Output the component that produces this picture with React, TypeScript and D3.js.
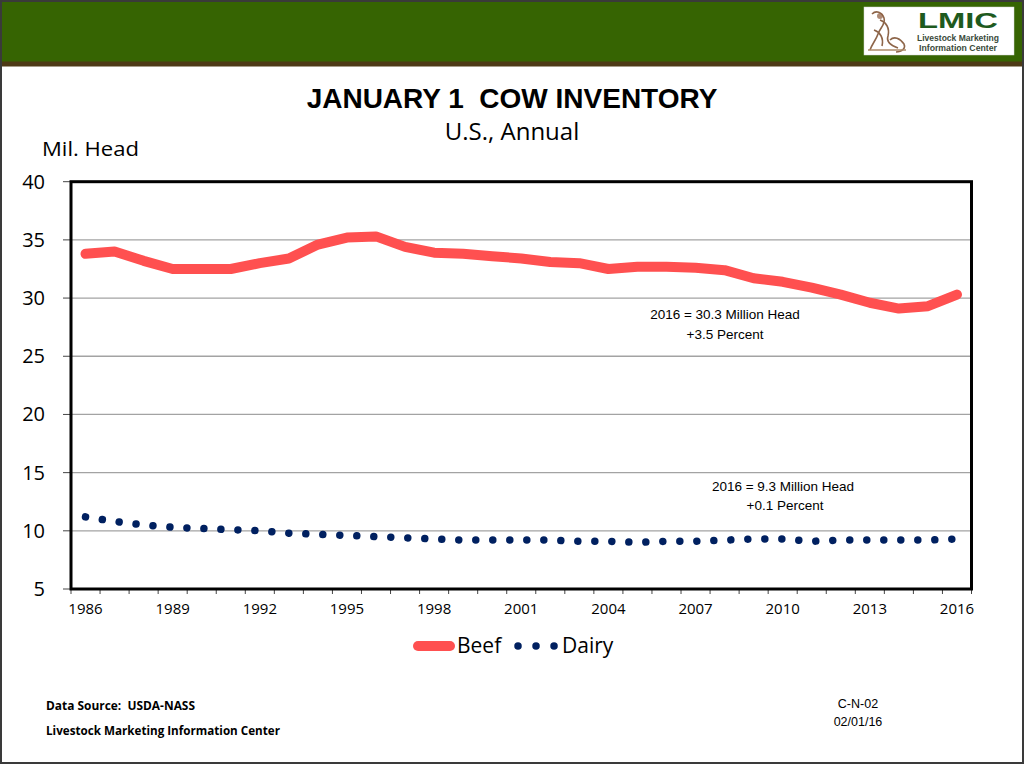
import React from "react";
import * as d3 from "d3";

const years: number[] = [1986,1987,1988,1989,1990,1991,1992,1993,1994,1995,1996,1997,1998,1999,2000,2001,2002,2003,2004,2005,2006,2007,2008,2009,2010,2011,2012,2013,2014,2015,2016];
const beef: number[] = [33.8,34.0,33.2,32.5,32.5,32.5,33.0,33.4,34.6,35.2,35.3,34.4,33.9,33.8,33.6,33.4,33.1,33.0,32.5,32.7,32.7,32.6,32.4,31.7,31.4,30.9,30.3,29.6,29.1,29.3,30.3];
const dairy: number[] = [11.2,10.8,10.5,10.3,10.2,10.1,10.0,9.8,9.7,9.6,9.5,9.4,9.3,9.2,9.2,9.2,9.2,9.1,9.1,9.0,9.1,9.1,9.2,9.3,9.3,9.1,9.2,9.2,9.2,9.2,9.3];
const yTicks: number[] = [5,10,15,20,25,30,35,40];
const xLabelYears: number[] = [1986,1989,1992,1995,1998,2001,2004,2007,2010,2013,2016];

const PL = 71, PR = 971.5, PT = 181.7, PB = 589;
const CAL = "'Open Sans', 'Noto Sans', sans-serif";
const ARIAL = "'Liberation Sans', Arial, sans-serif";

export default function App() {
  const x = d3.scaleBand<number>().domain(years).range([PL, PR]).padding(0);
  const xc = (yr: number) => (x(yr) as number) + x.bandwidth() / 2;
  const y = d3.scaleLinear().domain([5, 40]).range([PB, PT]);

  const beefPts: [number, number][] = years.map((yr, i) => [xc(yr), y(beef[i])]);
  const dairyPts: [number, number][] = years.map((yr, i) => [xc(yr), y(dairy[i])]);
  const line = d3.line<[number, number]>().x(d => d[0]).y(d => d[1]);

  const boundaries = years.map(yr => x(yr) as number).concat([PR]);

  return (
    <svg width={1024} height={764} style={{ position: "absolute", left: 0, top: 0, background: "#fff" }}>
      {/* header */}
      <rect x={0} y={0} width={1024} height={62} fill="#366402" />
      <rect x={0} y={61.5} width={1024} height={5} fill="#4e3a16" />
      <rect x={1} y={1} width={1022} height={762} fill="none" stroke="#3a3a3a" strokeWidth={2} />
      {/* logo */}
      <rect x={864} y={7} width={150} height={48} fill="#fff" stroke="#d8d8d8" strokeWidth={0.5} />
      <g stroke="#7a4b2a" strokeWidth={1.6} fill="none" opacity={0.85}>
        <path d="M872,14 C876,10 882,12 884,18 C886,24 880,28 878,34 C876,40 872,44 870,50" />
        <path d="M880,20 C886,22 890,28 888,36 C886,42 892,46 898,48" />
        <path d="M874,30 C880,32 884,38 882,46" />
        <path d="M890,40 C894,36 900,38 904,44 C906,48 902,52 896,52" />
        <path d="M868,50 L906,50" stroke="#a07850" />
      </g>
      <circle cx={880} cy={16} r={3} fill="#8b5a3c" opacity={0.7} />
      <text x={918} y={28} fontFamily={ARIAL} fontWeight="bold" fontSize={22} fill="#1e5a1e" textLength={80} lengthAdjust="spacingAndGlyphs">LMIC</text>
      <text x={917} y={41} fontFamily={ARIAL} fontWeight="bold" fontSize={9} fill="#3a4a3a" textLength={82} lengthAdjust="spacingAndGlyphs">Livestock Marketing</text>
      <text x={919} y={50.5} fontFamily={ARIAL} fontWeight="bold" fontSize={9} fill="#3a4a3a" textLength={78} lengthAdjust="spacingAndGlyphs">Information Center</text>

      {/* titles */}
      <text x={512} y={108} textAnchor="middle" fontFamily={ARIAL} fontWeight="bold" fontSize={28} fill="#000" style={{ whiteSpace: "pre" }}>JANUARY 1  COW INVENTORY</text>
      <text x={512} y={140} textAnchor="middle" fontFamily={CAL} fontSize={24} fill="#000">U.S., Annual</text>
      <text x={42} y={156} fontFamily={CAL} fontSize={20} fill="#000" textLength={97} lengthAdjust="spacingAndGlyphs">Mil. Head</text>

      {/* gridlines */}
      {yTicks.filter(t => t > 5 && t < 40).map(t => (
        <line key={"g" + t} x1={PL} x2={PR} y1={y(t)} y2={y(t)} stroke="#a3a3a3" strokeWidth={1.3} />
      ))}
      {/* y ticks & labels */}
      {yTicks.map(t => (
        <g key={"y" + t}>
          <line x1={63} x2={PL} y1={y(t)} y2={y(t)} stroke="#444" strokeWidth={1} />
          <text x={45} y={y(t) + 7} textAnchor="end" fontFamily={CAL} fontSize={20} fill="#000">{t}</text>
        </g>
      ))}
      {/* x ticks */}
      {boundaries.map((bx, i) => (
        <line key={"xt" + i} x1={bx} x2={bx} y1={PB} y2={PB + 5} stroke="#444" strokeWidth={1} />
      ))}
      {xLabelYears.map(yr => (
        <text key={"xl" + yr} x={xc(yr)} y={614} textAnchor="middle" fontFamily={CAL} fontSize={15} fill="#000">{yr}</text>
      ))}

      {/* series */}
      <path d={line(beefPts) as string} fill="none" stroke="#ff5050" strokeWidth={10} strokeLinejoin="round" strokeLinecap="round" />
      <path d={line(dairyPts) as string} fill="none" stroke="#002060" strokeWidth={7.5} strokeLinecap="round" strokeDasharray="0.01 17" />

      {/* plot border */}
      <rect x={PL} y={PT} width={PR - PL} height={PB - PT} fill="none" stroke="#000" strokeWidth={3} />

      {/* annotations */}
      <text x={725} y={319} textAnchor="middle" fontFamily={ARIAL} fontSize={13.5} fill="#000">2016 = 30.3 Million Head</text>
      <text x={725} y={339} textAnchor="middle" fontFamily={ARIAL} fontSize={13.5} fill="#000">+3.5 Percent</text>
      <text x={783} y={491} textAnchor="middle" fontFamily={ARIAL} fontSize={13.5} fill="#000">2016 = 9.3 Million Head</text>
      <text x={785} y={510} textAnchor="middle" fontFamily={ARIAL} fontSize={13.5} fill="#000">+0.1 Percent</text>

      {/* legend */}
      <line x1={418} x2={450} y1={646} y2={646} stroke="#ff5050" strokeWidth={10} strokeLinecap="round" />
      <text x={457} y={653} fontFamily={CAL} fontSize={21} fill="#000">Beef</text>
      <line x1={518} x2={554.5} y1={646} y2={646} stroke="#002060" strokeWidth={7.5} strokeLinecap="round" strokeDasharray="0.01 18" />
      <text x={562} y={653} fontFamily={CAL} fontSize={21} fill="#000">Dairy</text>

      {/* footer */}
      <text x={46} y={710} fontFamily={CAL} fontWeight="bold" fontSize={11.5} fill="#000" style={{ whiteSpace: "pre" }} textLength={149} lengthAdjust="spacingAndGlyphs">Data Source:  USDA-NASS</text>
      <text x={46} y={735} fontFamily={CAL} fontWeight="bold" fontSize={11.5} fill="#000" textLength={234} lengthAdjust="spacingAndGlyphs">Livestock Marketing Information Center</text>
      <text x={858} y={708} textAnchor="middle" fontFamily={ARIAL} fontSize={12.5} fill="#000">C-N-02</text>
      <text x={858} y={726} textAnchor="middle" fontFamily={ARIAL} fontSize={12.5} fill="#000">02/01/16</text>
    </svg>
  );
}
